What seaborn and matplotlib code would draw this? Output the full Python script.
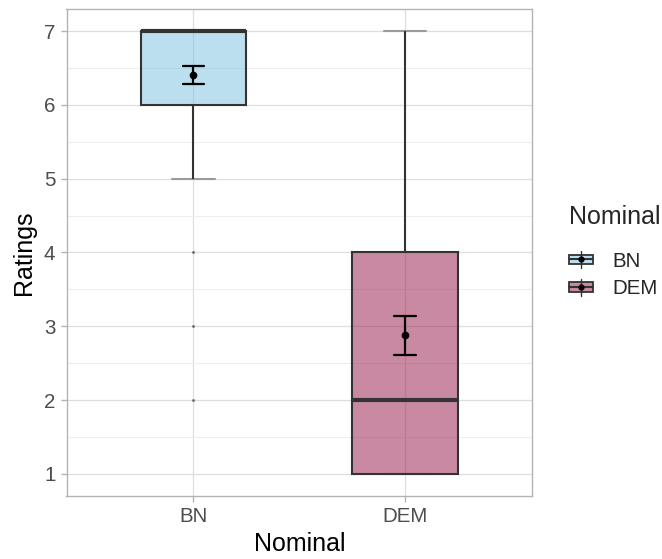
import numpy as np
import pandas as pd
import matplotlib
matplotlib.use("Agg")
import matplotlib.pyplot as plt
import seaborn as sns
from matplotlib.legend_handler import HandlerBase
from matplotlib.patches import Rectangle
from matplotlib.lines import Line2D
from matplotlib.ticker import MultipleLocator

# escala de respuestas y grupos
NIVELES = [1, 2, 3, 4, 5, 6, 7]
GRUPOS = ["BN", "DEM"]
# cuántas respuestas hay en cada nivel (estimado a ojo)
CONTEO_BN = [0, 1, 1, 1, 4, 19, 39]
CONTEO_DEM = [15, 13, 4, 8, 4, 3, 3]

COLORES = {"BN": "#79C1E1", "DEM": "#971547"}
ALFA = 0.5
GRIS_TEXTO = "#4D4D4D"
GRIS_BORDE = "#B3B3B3"


def armar_datos():
    partes = []
    for grupo, conteo in zip(GRUPOS, [CONTEO_BN, CONTEO_DEM]):
        valores = np.repeat(NIVELES, conteo)
        partes.append(pd.DataFrame({"Nominal": grupo, "Ratings": valores}))
    return pd.concat(partes, ignore_index=True)


class ClaveCaja(HandlerBase):
    """Dibuja la clave de la leyenda como una cajita con punto (estilo ggplot)."""

    def create_artists(self, legend, orig_handle, xdescent, ydescent,
                       width, height, fontsize, trans):
        x0, y0 = -xdescent, -ydescent
        cx, cy = x0 + width / 2, y0 + height / 2
        fc = orig_handle.get_facecolor()
        caja = Rectangle((x0, cy - height * 0.3), width, height * 0.6,
                         facecolor=fc, edgecolor="#333333", linewidth=1.3,
                         transform=trans)
        mediana = Line2D([x0, x0 + width], [cy, cy], color="#333333",
                         linewidth=1.5, transform=trans)
        vertical = Line2D([cx, cx], [y0, y0 + height], color="#333333",
                          linewidth=1.0, transform=trans)
        punto = Line2D([cx], [cy], marker="o", markersize=3.5, color="black",
                       linestyle="none", transform=trans)
        return [caja, mediana, vertical, punto]


df = armar_datos()

sns.set_theme(style="whitegrid")
plt.rcParams["font.family"] = ["Liberation Sans", "DejaVu Sans"]

fig, ax = plt.subplots(figsize=(6.62, 5.59), dpi=100)
fig.subplots_adjust(left=66.5 / 662, right=532 / 662,
                    top=1 - 9 / 559, bottom=1 - 496 / 559)

sns.boxplot(
    data=df, x="Nominal", y="Ratings", hue="Nominal",
    order=GRUPOS, hue_order=GRUPOS, palette=COLORES, saturation=1,
    width=0.5, linewidth=1.5, linecolor="#333333",
    fliersize=1.0, legend=False, capwidths=0.2,
    medianprops=dict(linewidth=3, color="#333333"),
    capprops=dict(color="#9A9A9A", linewidth=1.5, zorder=0.9),
    flierprops=dict(marker="o", markerfacecolor="#6A6A6A",
                    markeredgecolor="#6A6A6A"),
    ax=ax,
)
for p in ax.patches:
    fc = p.get_facecolor()
    p.set_facecolor((fc[0], fc[1], fc[2], ALFA))

sns.pointplot(
    data=df, x="Nominal", y="Ratings", order=GRUPOS,
    errorbar="se", capsize=0.1, color="black", linestyle="none",
    markersize=3.5, err_kws={"linewidth": 1.6}, ax=ax,
)

ax.set_xlim(-0.6, 1.6)
ax.set_ylim(0.7, 7.3)
ax.set_yticks(NIVELES)
ax.yaxis.set_minor_locator(MultipleLocator(0.5))
ax.grid(which="major", color="#DEDEDE", linewidth=0.9)
ax.grid(which="minor", axis="y", color="#EDEDED", linewidth=0.7)
ax.set_axisbelow(True)
for s in ax.spines.values():
    s.set_visible(True)
    s.set_color(GRIS_BORDE)
    s.set_linewidth(1.0)
ax.tick_params(which="major", bottom=True, left=True, length=4, width=1,
               color=GRIS_BORDE, labelsize=14.8, labelcolor=GRIS_TEXTO, pad=4)
ax.tick_params(which="minor", length=0)
ax.set_xlabel("Nominal", fontsize=18, color="black", labelpad=4)
ax.set_ylabel("Ratings", fontsize=18, color="black", labelpad=6)

manijas = [Rectangle((0, 0), 1, 1, facecolor=COLORES[g], alpha=ALFA) for g in GRUPOS]
leyenda = fig.legend(
    manijas, GRUPOS, title="Nominal", loc="upper left",
    bbox_to_anchor=(569 / 662, 1 - 205 / 559), frameon=False,
    fontsize=14.8, title_fontsize=18, handler_map={Rectangle: ClaveCaja()},
    handlelength=1.15, handleheight=0.85, handletextpad=0.95,
    labelspacing=0.42, borderpad=0, borderaxespad=0, alignment="left",
)
# más aire entre el título y las claves
leyenda._legend_box.sep = 16

fig.savefig("out.png", dpi=100)
